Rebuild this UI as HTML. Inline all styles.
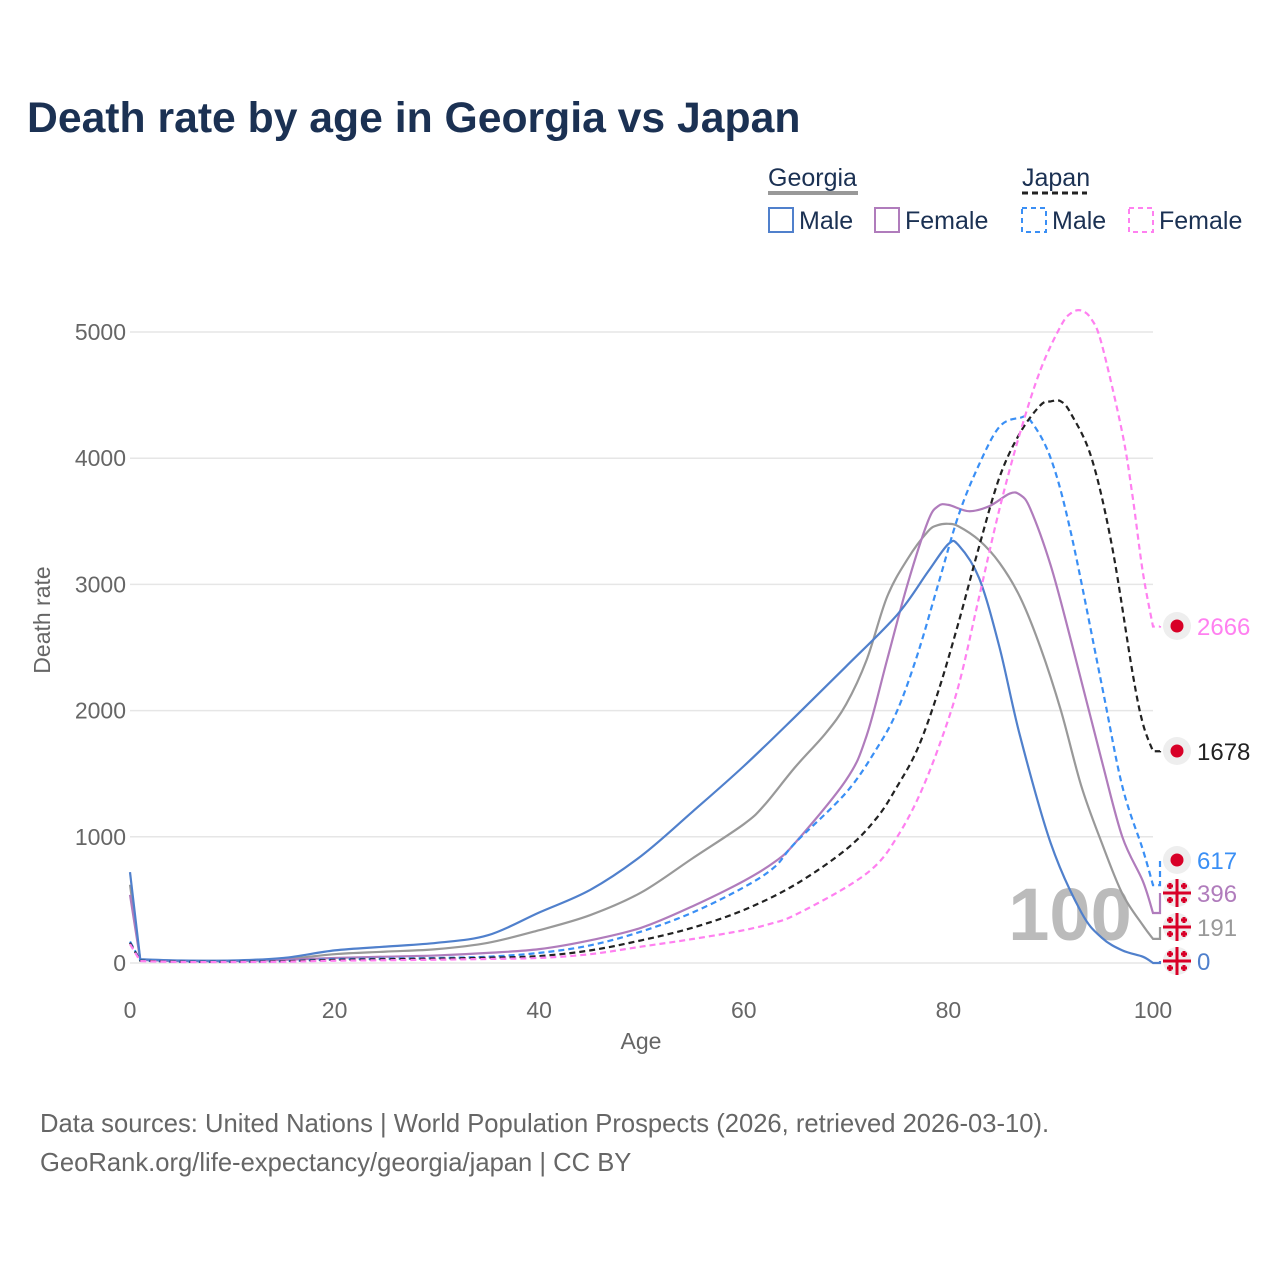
<!DOCTYPE html>
<html><head><meta charset="utf-8"><style>
html,body{margin:0;padding:0;background:#fff;}
svg{display:block;font-family:"Liberation Sans",sans-serif;}
</style></head><body>
<svg id="chart" width="1280" height="1280" viewBox="0 0 1280 1280">
<text x="27" y="132" font-size="42.7" font-weight="bold" fill="#1b3153">Death rate by age in Georgia vs Japan</text>
<g>
<text x="768" y="186" font-size="25" fill="#1b3153">Georgia</text>
<line x1="768" y1="193" x2="858" y2="193" stroke="#999" stroke-width="4"/>
<text x="1022" y="186" font-size="25" fill="#1b3153">Japan</text>
<line x1="1022" y1="193" x2="1087" y2="193" stroke="#222" stroke-width="3" stroke-dasharray="6,4"/>
<rect x="769" y="208" width="24" height="24" fill="none" stroke="#5080cc" stroke-width="2"/>
<text x="799" y="229" font-size="25" fill="#1b3153">Male</text>
<rect x="875" y="208" width="24" height="24" fill="none" stroke="#b07cbc" stroke-width="2"/>
<text x="905" y="229" font-size="25" fill="#1b3153">Female</text>
<rect x="1022" y="208" width="24" height="24" fill="none" stroke="#3a8ff5" stroke-width="2" stroke-dasharray="5,4"/>
<text x="1052" y="229" font-size="25" fill="#1b3153">Male</text>
<rect x="1129" y="208" width="24" height="24" fill="none" stroke="#ff80f0" stroke-width="2" stroke-dasharray="5,4"/>
<text x="1159" y="229" font-size="25" fill="#1b3153">Female</text>
</g>
<g id="grid"></g>
<text x="1070" y="940" font-size="74" font-weight="bold" fill="#bbb" text-anchor="middle">100</text>
<g id="series"></g>
<g id="endlabels"></g>
<text x="641" y="1049" font-size="23" fill="#666" text-anchor="middle">Age</text>
<text transform="translate(50,620) rotate(-90)" font-size="23" fill="#666" text-anchor="middle">Death rate</text>
<text x="40" y="1132" font-size="25.6" fill="#666">Data sources: United Nations | World Population Prospects (2026, retrieved 2026-03-10).</text>
<text x="40" y="1171" font-size="25.6" fill="#666">GeoRank.org/life-expectancy/georgia/japan | CC BY</text>
</svg>
<script>
const xTicks=[0,20,40,60,80,100];
const yTicks=[0,1000,2000,3000,4000,5000];
const gmAges=[0,1,5,10,15,20,25,30,35,40,45,50,55,60,65,70,75,78,80,81,83,85,87,90,93,95,97,99,100];
const gmVals=[720,30,20,20,40,100,130,160,220,400,580,850,1200,1560,1950,2350,2760,3100,3320,3310,3050,2500,1800,950,400,200,100,50,0];
const gfAges=[0,1,5,10,15,20,25,30,35,40,45,50,55,60,63,65,70,72,74,76,78,79,80,82,84,86,87,88,90,92,95,97,99,100];
const gfVals=[540,25,15,15,25,40,50,60,80,110,180,280,450,650,800,950,1450,1800,2400,3000,3500,3620,3630,3580,3620,3720,3710,3600,3150,2550,1600,1000,650,396];
const gtAges=[0,1,5,10,15,20,25,30,35,40,45,50,55,60,62,65,68,70,72,74,76,78,79,80,81,83,85,87,89,91,93,95,97,99,100];
const gtVals=[620,28,18,18,30,70,90,110,160,260,380,560,830,1100,1250,1550,1820,2050,2400,2900,3200,3420,3470,3480,3460,3350,3170,2900,2500,2000,1400,950,550,300,191];
const jmAges=[0,1,5,10,15,20,25,30,35,40,45,50,55,60,63,65,70,73,75,77,79,81,83,85,87,88,90,92,95,97,99,100];
const jmVals=[170,20,10,10,15,30,35,40,50,80,140,250,400,600,760,950,1350,1700,2000,2450,3000,3550,3950,4250,4320,4300,4000,3400,2200,1400,900,617];
const jtAges=[0,1,5,10,15,20,25,30,35,40,45,50,55,60,65,70,73,75,77,79,81,83,85,87,89,90,91,92,94,96,98,99,100];
const jtVals=[160,18,10,10,14,25,30,35,42,55,100,180,280,420,620,900,1150,1400,1700,2150,2700,3300,3850,4200,4420,4450,4450,4350,4000,3300,2300,1900,1678];
const jfAges=[0,1,5,10,15,20,25,30,35,40,45,50,55,60,63,65,70,73,75,77,79,81,83,85,87,89,91,92,93,94,95,97,98,99,100];
const jfVals=[150,15,8,8,10,18,22,26,32,40,70,130,190,260,320,380,600,780,1000,1300,1700,2200,2900,3600,4200,4700,5050,5150,5170,5100,4900,4200,3700,3100,2666];
const endValues=[2666,1678,617,396,191,0];
const endLabelY=[626,751,860,893,927,961];

const X0=130,X1=1153,Y0=963,Y5=332;
const xs=a=>X0+(X1-X0)*a/100;
const ys=v=>Y0-(Y0-Y5)*v/5000;
const NS="http://www.w3.org/2000/svg";
const grid=document.getElementById('grid');
yTicks.forEach(t=>{
  const l=document.createElementNS(NS,'line');
  l.setAttribute('x1',X0);l.setAttribute('x2',X1);l.setAttribute('y1',ys(t));l.setAttribute('y2',ys(t));
  l.setAttribute('stroke','#e6e6e6');l.setAttribute('stroke-width','1.5');
  
  
  grid.appendChild(l);
  const tx=document.createElementNS(NS,'text');
  tx.setAttribute('x',126);tx.setAttribute('y',ys(t)+8);tx.setAttribute('text-anchor','end');
  tx.setAttribute('font-size','23');tx.setAttribute('fill','#666');tx.textContent=t;
  
  
  grid.appendChild(tx);
});
xTicks.forEach(t=>{
  const tx=document.createElementNS(NS,'text');
  tx.setAttribute('x',xs(t));tx.setAttribute('y',1018);tx.setAttribute('text-anchor','middle');
  tx.setAttribute('font-size','23');tx.setAttribute('fill','#666');tx.textContent=t;
  
  
  grid.appendChild(tx);
});
function smoothPath(ages,vals){
  const p=ages.map((a,i)=>[xs(a),ys(vals[i])]);
  let d='M'+p[0][0]+','+p[0][1];
  for(let i=0;i<p.length-1;i++){
    const p0=p[Math.max(0,i-1)],p1=p[i],p2=p[i+1],p3=p[Math.min(p.length-1,i+2)];
    const t=(i<=1)?0:1/6, t2=(i<=0)?0:1/6;
    const c1=[p1[0]+(p2[0]-p0[0])*t,Math.min(Y0,p1[1]+(p2[1]-p0[1])*t)];
    const c2=[p2[0]-(p3[0]-p1[0])*t2,Math.min(Y0,p2[1]-(p3[1]-p1[1])*t2)];
    d+=' C'+c1[0]+','+c1[1]+' '+c2[0]+','+c2[1]+' '+p2[0]+','+p2[1];
  }
  return d;
}
const series=document.getElementById('series');
const defs=[
 ['georgia-total-line',gtAges,gtVals,'#999',null,191,927],
 ['georgia-female-line',gfAges,gfVals,'#b07cbc',null,396,893],
 ['georgia-male-line',gmAges,gmVals,'#5080cc',null,0,961],
 ['japan-male-line',jmAges,jmVals,'#3a8ff5','6,4',617,860],
 ['japan-total-line',jtAges,jtVals,'#222','6,4',1678,751],
 ['japan-female-line',jfAges,jfVals,'#ff80f0','6,4',2666,626]
];
defs.forEach(s=>{
  const p=document.createElementNS(NS,'path');
  const last=s[2][s[2].length-1];
  p.setAttribute('d',smoothPath(s[1],s[2])+' L'+(X1+7)+','+ys(last)+' L'+(X1+7)+','+s[6]);
  p.setAttribute('fill','none');p.setAttribute('stroke',s[3]);p.setAttribute('stroke-width','2.2');
  if(s[4])p.setAttribute('stroke-dasharray',s[4]);
  
  
  series.appendChild(p);
});
const endColors=['#ff80f0','#222','#3a8ff5','#b07cbc','#999','#5080cc'];
const endFlag=['jp','jp','jp','ge','ge','ge'];
const el=document.getElementById('endlabels');
endValues.forEach((v,i)=>{
  const y=endLabelY[i],cx=1177;
  const c=document.createElementNS(NS,'circle');
  c.setAttribute('cx',cx);c.setAttribute('cy',y);c.setAttribute('r',14);c.setAttribute('fill','#eee');
  
  
  el.appendChild(c);
  if(endFlag[i]==='jp'){
    const d=document.createElementNS(NS,'circle');
    d.setAttribute('cx',cx);d.setAttribute('cy',y);d.setAttribute('r',6.5);d.setAttribute('fill','#d80027');
    
    
    el.appendChild(d);
  } else {
    const g=document.createElementNS(NS,'path');
    let dd=`M${cx-14},${y} H${cx+14} M${cx},${y-14} V${y+14}`;
    [[-7,-7],[7,-7],[-7,7],[7,7]].forEach(o=>{dd+=` M${cx+o[0]-3},${y+o[1]} h6 M${cx+o[0]},${y+o[1]-3} v6`;});
    g.setAttribute('d',dd);g.setAttribute('stroke','#d80027');g.setAttribute('stroke-width','3');
    
    
    el.appendChild(g);
  }
  const t=document.createElementNS(NS,'text');
  t.setAttribute('x',1197);t.setAttribute('y',y+9);t.setAttribute('font-size','24');t.setAttribute('fill',endColors[i]);
  t.textContent=v;
  
  
  el.appendChild(t);
});
</script>
</body></html>
